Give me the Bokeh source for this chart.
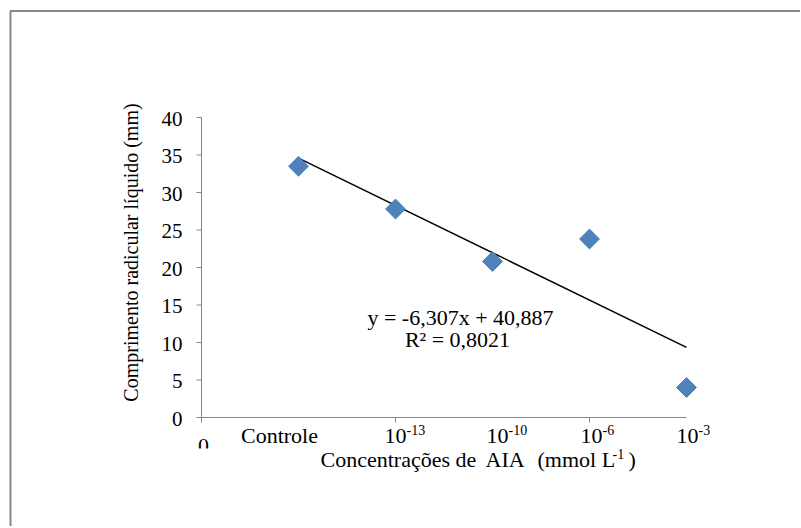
import numpy as np
from bokeh.plotting import figure
from bokeh.core.properties import value
from bokeh.embed import file_html
from bokeh.resources import INLINE

# ---- data ----
x_vals = [1, 2, 3, 4, 5]
y_vals = [33.5, 27.8, 20.8, 23.8, 4.0]
cat_base = ["Controle", "10", "10", "10", "10"]
cat_exp = ["", "-13", "-10", "-6", "-3"]
slope = -6.307
intercept = 40.887
eq_text = "y = -6,307x + 40,887"
r2_text = "R² = 0,8021"
y_ticks = [0, 5, 10, 15, 20, 25, 30, 35, 40]
x_ticks = [0, 2, 4]
x_min, x_max = 0, 5
y_min, y_max = 0, 40
x_title_parts = ["Concentrações de", "AIA", "(mmol L"]
x_title_sup = "-1"
x_title_end = ")"
y_title = "Comprimento radicular líquido (mm)"

FONT = value("Liberation Serif")
FS = value("21px")
FS_BIG = value("22px")
FS_SUP = value("14px")

# ---- pixel layout (chart area: x 0..5 -> px 201..686, y 0..40 -> px 417..117) ----
W, H = 800, 526
X0, UX = 201.0, 97.0
Y0, UY = 417.0, 7.5
BL_FIX = 8  # alphabetic-baseline correction (px)


def xd(px):
    return (px - X0) / UX


def yd(py):
    return (Y0 - py) / UY


def ybl(py):
    return yd(py - BL_FIX)


p = figure(width=W, height=H, x_range=(xd(0), xd(W)), y_range=(yd(H), yd(0)),
           output_backend="svg", toolbar_location=None,
           x_axis_location=None, y_axis_location=None, min_border=0)
p.background_fill_color = "white"
p.border_fill_color = "white"
p.outline_line_color = None
p.grid.visible = False

AX = "#868686"
TICK = 5  # px

# outer chart frame (continues beyond right and bottom of the window)
p.line([xd(10), xd(10), xd(1000)], [yd(1000), yd(10.5), yd(10.5)],
       line_color="#878787", line_width=2)

# axis lines
p.line([x_min, x_min], [y_min, y_max], line_color=AX, line_width=1)
p.line([x_min, x_max], [y_min, y_min], line_color=AX, line_width=1)

# y ticks
p.segment(x0=[x_min] * len(y_ticks), x1=[x_min - TICK / UX] * len(y_ticks),
          y0=y_ticks, y1=y_ticks, line_color=AX, line_width=1)
# x ticks
p.segment(x0=x_ticks, x1=x_ticks, y0=[y_min] * len(x_ticks),
          y1=[y_min - TICK / UY] * len(x_ticks), line_color=AX, line_width=1)

# y tick labels
p.text(x=[x_min] * len(y_ticks), y=y_ticks, text=[str(t) for t in y_ticks],
       x_offset=-19, y_offset=1, text_align="right", text_baseline="middle",
       text_font=FONT, text_font_size=FS, text_color="black")

# trend line
tx = np.array([x_vals[0], x_vals[-1]], dtype=float)
ty = slope * tx + intercept
p.line(tx, ty, line_color="black", line_width=1.5)

# points
p.scatter(x_vals, y_vals, marker="square", angle=np.pi / 4, size=14,
          fill_color="#4F81BD", line_color="#4A7EBB", line_width=1)

# category labels
cat_dx = [-19, 11, 16, 13, 12]
for xv, b, e, dx in zip(x_vals, cat_base, cat_exp, cat_dx):
    if e == "":
        p.text(x=[xv], y=[ybl(443)], text=[b], x_offset=dx, text_align="center",
               text_baseline="alphabetic", text_font=FONT, text_font_size=FS_BIG,
               text_color="black")
    else:
        p.text(x=[xv], y=[ybl(443)], text=[b], x_offset=dx, text_align="right",
               text_baseline="alphabetic", text_font=FONT, text_font_size=FS_BIG,
               text_color="black")
        p.text(x=[xv], y=[ybl(437)], text=[e], x_offset=dx, text_align="left",
               text_baseline="alphabetic", text_font=FONT, text_font_size=FS_SUP,
               text_color="black")

# the "0" label (bottom hidden by a white box, as in the original)
p.text(x=[x_min], y=[ybl(453)], text=["0"], x_offset=2, text_align="center",
       text_baseline="alphabetic", text_font=FONT, text_font_size=FS_BIG,
       text_color="black")
p.quad(left=[xd(190)], right=[xd(218)], top=[yd(448)], bottom=[yd(475)],
       fill_color="white", line_color=None)

# x-axis title (pieces keep the original double spacing)
p.text(x=[xd(320), xd(485), xd(537)], y=[ybl(467)] * 3, text=x_title_parts,
       text_align="left", text_baseline="alphabetic", text_font=FONT,
       text_font_size=FS_BIG, text_color="black")
p.text(x=[xd(612)], y=[ybl(461)], text=[x_title_sup], text_align="left",
       text_baseline="alphabetic", text_font=FONT, text_font_size=FS_SUP,
       text_color="black")
p.text(x=[xd(628)], y=[ybl(467)], text=[x_title_end], text_align="left",
       text_baseline="alphabetic", text_font=FONT, text_font_size=FS_BIG,
       text_color="black")

# y-axis title
p.text(x=[xd(130)], y=[yd(252)], text=[y_title],
       angle=np.pi / 2, text_align="center", text_baseline="middle",
       text_font=FONT, text_font_size=value("20px"), text_color="black")

# regression equation
p.text(x=[xd(460)], y=[ybl(325)], text=[eq_text], text_align="center",
       text_baseline="alphabetic", text_font=FONT, text_font_size=FS_BIG,
       text_color="black")
p.text(x=[xd(457)], y=[ybl(347)], text=[r2_text], text_align="center",
       text_baseline="alphabetic", text_font=FONT, text_font_size=FS_BIG,
       text_color="black")

open("out.html", "w").write(file_html(p, INLINE))
